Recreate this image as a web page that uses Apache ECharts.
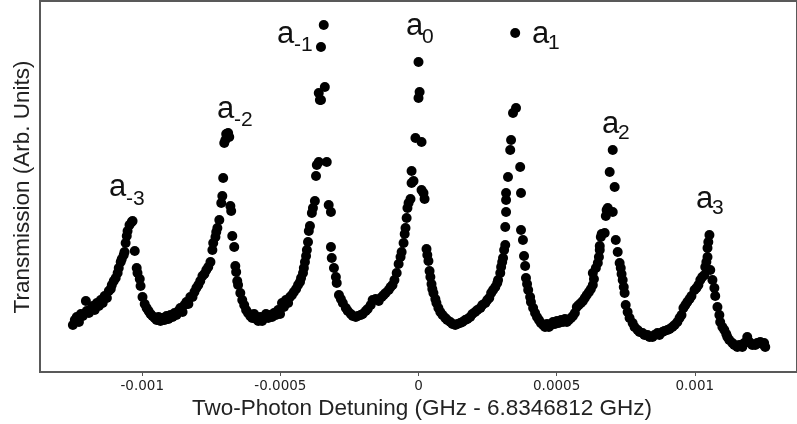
<!DOCTYPE html>
<html>
<head>
<meta charset="utf-8">
<script src="https://cdn.jsdelivr.net/npm/echarts@6/dist/echarts.min.js"></script>
<style>
html,body{margin:0;padding:0;background:#fff;}
#chart{width:797px;height:424px;}
</style>
</head>
<body>
<div id="chart"></div>
<script>
// Two-photon detuning (kHz, relative to 6.8346812 GHz)
const detuningKHz = [
-1251,-1244,-1237,-1229,-1222,-1215,-1204,-1201,-1193,-1186,-1179,-1172,-1164,-1157,-1150,-1143,-1136,-1128,-1121,-1114,-1110,-1103,-1096,-1089,-1085,-1078,-1074,-1067,-1064,-1060,-1056,-1053,-1046,-1038,-1035,
-1027,-1020,-1017,-1009,-1006,-999,-991,-984,-977,-970,-963,-955,-948,-941,-934,-927,-919,-912,-905,-898,-890,-883,-876,-869,-862,-854,-847,-840,-833,-826,-818,-811,-804,-797,-790,-782,-775,-768,-761,-753,-746,-743,-735,-732,-728,-721,-714,-710,-707,-703,-699,-696,-689,-685,
-681,-678,-674,-667,-663,-660,-656,-653,-645,-638,-631,-624,-617,-609,-602,-595,-588,-580,-573,-566,-559,-552,-544,-537,-530,-523,-516,-508,-501,-494,-487,-480,-472,-465,-458,-451,-443,-436,-429,-425,-418,-415,-411,-407,-404,-400,-397,-393,-386,-382,-375,-371,-368,-361,-357,-361,-353,-353,-343,-339,-332,
-325,-317,-317,-314,-306,-299,-296,-288,-281,-274,-263,-256,-245,-238,-227,-220,-209,-202,-191,-184,-173,-166,-155,-144,-133,-126,-119,-108,-101,-94,-87,-79,-72,-65,-61,-54,-50,-47,-43,-40,-36,-29,-25,-25,-18,-11,0,4,0,
11,11,18,22,29,32,36,40,43,47,50,54,61,65,72,79,87,97,104,115,123,133,141,151,159,169,177,187,195,205,213,224,231,242,249,256,263,270,278,285,288,296,299,303,306,310,314,314,317,317,317,324,332,335,342,353,350,
368,371,371,378,382,386,389,393,397,404,407,415,422,429,436,443,451,458,465,472,480,487,494,501,508,516,523,530,537,544,552,559,566,573,580,588,595,602,609,617,624,631,635,631,642,649,653,656,656,660,663,674,678,681,685,692,703,710,703,
714,721,728,732,735,739,743,746,750,757,764,775,782,793,800,811,818,829,836,847,854,865,872,883,890,901,909,919,927,937,945,952,959,966,973,981,988,999,1006,1013,1020,1027,1035,1038,1042,1046,1046,1049,1053,
1056,1064,1071,1074,1082,1089,1092,1100,1107,1114,1118,1125,1136,1143,1154,1161,1172,1179,1190,1197,1201,1208,1219,1226,1237,1244,1251,1255
];
// Transmission (arbitrary units)
const transmission = [
47,52,55,50,58,56,71,61,59,63,66,62,69,66,72,69,76,74,81,83,87,91,94,99,104,110,113,117,120,129,136,141,147,150,151,
121,104,99,93,86,75,68,64,61,58,56,54,52,55,51,54,52,56,53,57,55,59,57,61,64,60,67,70,68,75,75,80,84,87,91,96,98,102,105,110,122,129,135,140,144,152,169,176,194,229,232,238,239,235,
166,161,136,125,106,100,91,87,79,72,67,62,59,56,54,58,53,51,55,51,54,58,54,57,55,59,57,62,58,69,65,72,69,75,77,80,83,87,90,94,99,104,110,116,122,130,141,146,159,164,171,196,207,210,272,279,272,325,347,285,210,
167,160,125,114,104,95,89,77,73,69,64,61,58,56,55,56,57,58,61,63,67,72,73,71,75,77,79,82,85,87,92,99,108,115,120,129,138,144,154,164,169,173,189,201,191,234,274,280,310,
230,182,179,173,123,117,111,101,95,88,83,79,73,69,64,60,57,54,52,50,48,47,48,49,50,52,53,55,58,60,62,64,67,69,72,74,79,82,85,89,92,99,105,110,114,122,127,145,160,172,179,195,222,232,259,264,339,
205,179,142,132,116,106,94,88,82,75,70,64,59,55,52,49,47,45,48,45,47,50,48,51,49,52,50,53,50,52,54,56,59,65,67,69,71,74,77,80,83,87,93,99,104,109,115,122,126,135,138,139,156,162,164,200,160,185,222,
132,120,109,104,98,92,85,79,67,60,54,49,45,42,40,39,37,37,35,35,37,39,37,40,41,42,43,45,47,50,54,57,64,67,70,73,76,82,84,87,92,95,97,105,110,115,124,130,137,
102,92,84,76,65,57,50,45,42,38,35,32,29,27,25,27,25,29,35,30,29,27,27,29,30,28,29,25
];
const tickValuesGHz = [-0.001, -0.0005, 0, 0.0005, 0.001];
const peakSubscripts = ['-3', '-2', '-1', '0', '1', '2', '3'];
const xAxisTitle = 'Two-Photon Detuning (GHz - 6.8346812 GHz)';
const yAxisTitle = 'Transmission (Arb. Units)';

// label layout (pixel placement of annotations)
const peakLabelLayout = [
  {ax:109, ay:187.5, sx:126, sy:199.5},
  {ax:217, ay:109,   sx:234, sy:120.5},
  {ax:277, ay:34,    sx:294, sy:45},
  {ax:406, ay:26.5,  sx:422, sy:37},
  {ax:532, ay:34,    sx:548, sy:43},
  {ax:602, ay:124,   sx:618, sy:133.5},
  {ax:696, ay:199,   sx:712, sy:208.5}
];

const points = detuningKHz.map((x, i) => [x / 1e6, transmission[i]]);
const FONT = '"Liberation Sans", Arial, sans-serif';

const graphics = [];
peakLabelLayout.forEach((p, i) => {
  graphics.push({type:'text', x:p.ax, y:p.ay, style:{text:'a', font:'31px ' + FONT, fill:'#111', textAlign:'left', textVerticalAlign:'middle'}});
  graphics.push({type:'text', x:p.sx, y:p.sy, style:{text:peakSubscripts[i], font:'21px ' + FONT, fill:'#111', textAlign:'left', textVerticalAlign:'middle'}});
});
graphics.push({type:'text', x:422, y:409, style:{text:xAxisTitle, font:'22.5px ' + FONT, fill:'#222', textAlign:'center', textVerticalAlign:'middle'}});
graphics.push({type:'text', x:23, y:187, rotation:Math.PI/2, style:{text:yAxisTitle, font:'22.5px ' + FONT, fill:'#222', textAlign:'center', textVerticalAlign:'middle'}});

const chart = echarts.init(document.getElementById('chart'), null, {renderer:'canvas'});
chart.setOption({
  animation:false,
  backgroundColor:'#fff',
  grid:{left:40, right:-3, top:1, bottom:52, show:true, borderColor:'#595959', borderWidth:2, backgroundColor:'transparent'},
  xAxis:{
    type:'value', min:-0.00137, max:0.00137,
    axisLine:{show:false},
    splitLine:{show:false},
    axisTick:{show:true, length:4, customValues:tickValuesGHz, lineStyle:{color:'#555', width:1}},
    axisLabel:{customValues:tickValuesGHz, margin:7, fontFamily:'"DejaVu Sans", sans-serif', fontSize:13.5, color:'#222', formatter:v => String(v)}
  },
  yAxis:{
    type:'value', min:0, max:371,
    axisLine:{show:false}, axisTick:{show:false}, axisLabel:{show:false}, splitLine:{show:false}
  },
  series:[{
    type:'scatter',
    data:points,
    symbol:'circle',
    symbolSize:10,
    itemStyle:{color:'#000', opacity:1},
    silent:true
  }],
  graphic:graphics
});
</script>
</body>
</html>
